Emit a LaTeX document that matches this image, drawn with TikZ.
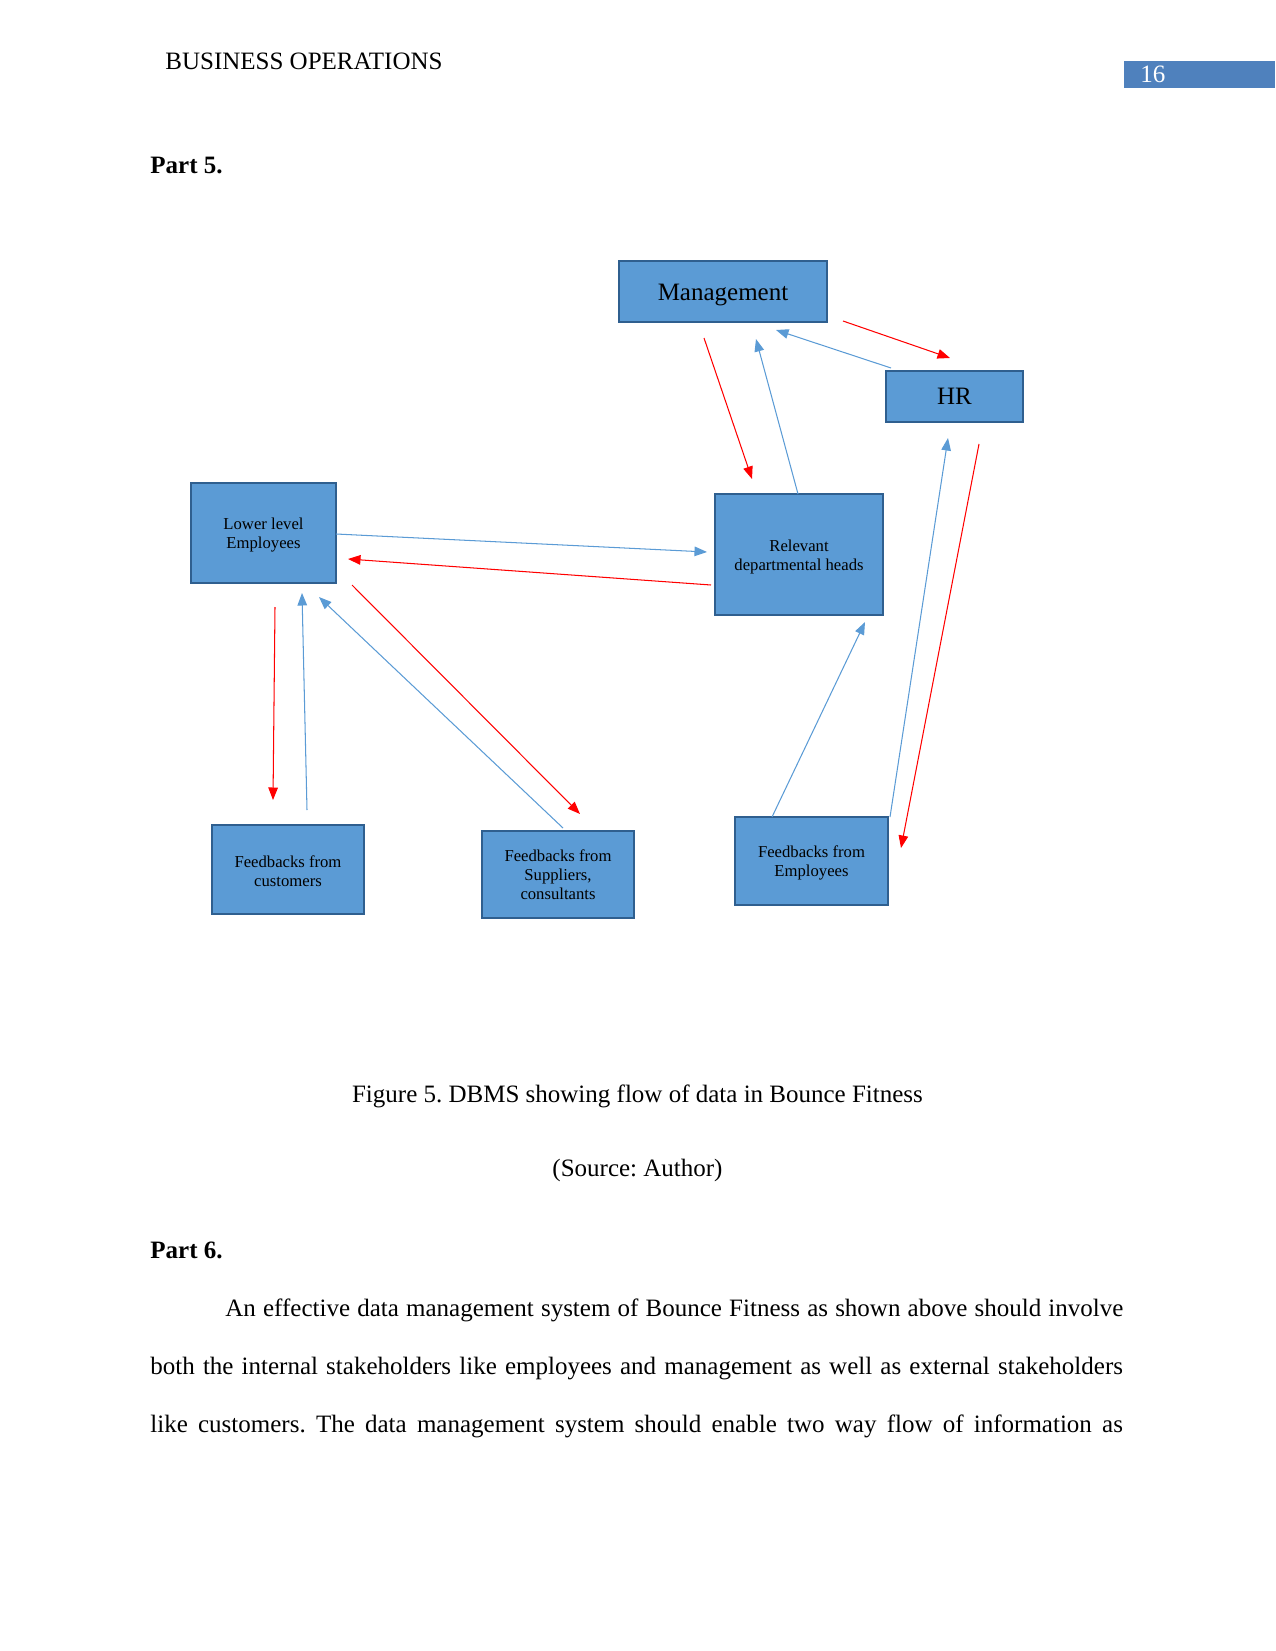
\documentclass[tikz,border=0pt]{standalone}
\usepackage{fontspec}
\setmainfont{Liberation Serif}
\usetikzlibrary{arrows.meta}
\definecolor{boxfill}{HTML}{5B9BD5}
\definecolor{boxline}{HTML}{2F5F8F}
\definecolor{pagebox}{HTML}{4F81BD}
\definecolor{arrblue}{HTML}{5B9BD5}
\definecolor{arrred}{HTML}{FF0000}
\newcommand{\tstr}{\rule{0pt}{0.95em}}
\frenchspacing
\begin{document}
\begin{tikzpicture}[x=0.48pt,y=-0.48pt,
  blk/.style={draw=boxline, fill=boxfill, line width=1.1pt, inner sep=0pt, align=center, text=black},
  big/.style={font=\fontsize{12}{14}\selectfont},
  small/.style={font=\fontsize{8}{9.1}\selectfont},
  txt/.style={font=\fontsize{12}{14}\selectfont, inner sep=0pt},
  redarr/.style={draw=arrred, line width=0.5pt, -{Triangle[length=6pt,width=4.6pt]}},
  bluearr/.style={draw=arrblue, line width=0.5pt, -{Triangle[length=6pt,width=4.6pt]}}
  ]
\useasboundingbox (0,0) rectangle (1275,1651);

% header
\node[txt, anchor=base west] (hdr) at (165,69.5) {BUSINESS OPERATIONS};
\node[fill=pagebox, inner sep=0pt, minimum width={151*0.48pt}, minimum height={27*0.48pt}, anchor=north west] (pg) at (1124,61) {};
\node[txt, anchor=base west, text=white] (pgnum) at (1140,83) {16};

\node[txt, anchor=base west] (p5) at (150,173.5) {\bfseries Part 5.};

% boxes
\node[blk, big, minimum width={208*0.48pt}, minimum height={61*0.48pt}] (mgmt) at (723,291.5) {\tstr Management};
\node[blk, big, minimum width={137*0.48pt}, minimum height={51*0.48pt}] (hr) at (954.5,396.5) {HR};
\node[blk, small, minimum width={145*0.48pt}, minimum height={100*0.48pt}] (lower) at (263.5,533) {\tstr Lower level\\Employees};
\node[blk, small, minimum width={168*0.48pt}, minimum height={121*0.48pt}] (rel) at (799,554.5) {\tstr Relevant\\departmental heads};
\node[blk, small, minimum width={152*0.48pt}, minimum height={89*0.48pt}] (cust) at (288,869.5) {\tstr Feedbacks from\\customers};
\node[blk, small, minimum width={152*0.48pt}, minimum height={87*0.48pt}] (supp) at (558,874.5) {Feedbacks from\\Suppliers,\\consultants};
\node[blk, small, minimum width={153*0.48pt}, minimum height={88*0.48pt}] (emp) at (811.5,861) {\tstr Feedbacks from\\Employees};

% connector end points
\coordinate (a1s) at (843,321);  \coordinate (a1e) at (950,358);
\coordinate (a2s) at (891,368);  \coordinate (a2e) at (776,330);
\coordinate (a3s) at (704,338);  \coordinate (a3e) at (752,479);
\coordinate (a4s) at (798,494);  \coordinate (a4e) at (756,339);
\coordinate (a5s) at (336,534);  \coordinate (a5e) at (707,552);
\coordinate (a6s) at (711,585);  \coordinate (a6e) at (348,559);
\coordinate (a7s) at (275,607);  \coordinate (a7e) at (273,800);
\coordinate (a8s) at (307,810);  \coordinate (a8e) at (302,593);
\coordinate (a9s) at (563,828);  \coordinate (a9e) at (319,597);
\coordinate (a10s) at (352,585); \coordinate (a10e) at (580,814);
\coordinate (a11s) at (772,817); \coordinate (a11e) at (865,622);
\coordinate (a12s) at (890,817); \coordinate (a12e) at (948,438);
\coordinate (a13s) at (979,444); \coordinate (a13e) at (901,848);

\draw[redarr] (a1s) -- (a1e);
\draw[bluearr] (a2s) -- (a2e);
\draw[redarr] (a3s) -- (a3e);
\draw[bluearr] (a4s) -- (a4e);
\draw[bluearr] (a5s) -- (a5e);
\draw[redarr] (a6s) -- (a6e);
\draw[redarr] (a7s) -- (a7e);
\draw[bluearr] (a8s) -- (a8e);
\draw[bluearr] (a9s) -- (a9e);
\draw[redarr] (a10s) -- (a10e);
\draw[bluearr] (a11s) -- (a11e);
\draw[bluearr] (a12s) -- (a12e);
\draw[redarr] (a13s) -- (a13e);

% caption and text
\node[txt, anchor=base] (cap) at (637.5,1102) {Figure 5. DBMS showing flow of data in Bounce Fitness};
\node[txt, anchor=base] (src) at (637.5,1176) {(Source: Author)};
\node[txt, anchor=base west] (p6) at (150,1258) {\bfseries Part 6.};
\node[txt, anchor=base west] (l1) at (225,1316) {\makebox[431pt][s]{An effective data management system of Bounce Fitness as shown above should involve}};
\node[txt, anchor=base west] (l2) at (150,1374) {\makebox[466.8pt][s]{both the internal stakeholders like employees and management as well as external stakeholders}};
\node[txt, anchor=base west] (l3) at (150,1432) {\makebox[466.8pt][s]{like customers. The data management system should enable two way flow of information as}};
\end{tikzpicture}
\end{document}
